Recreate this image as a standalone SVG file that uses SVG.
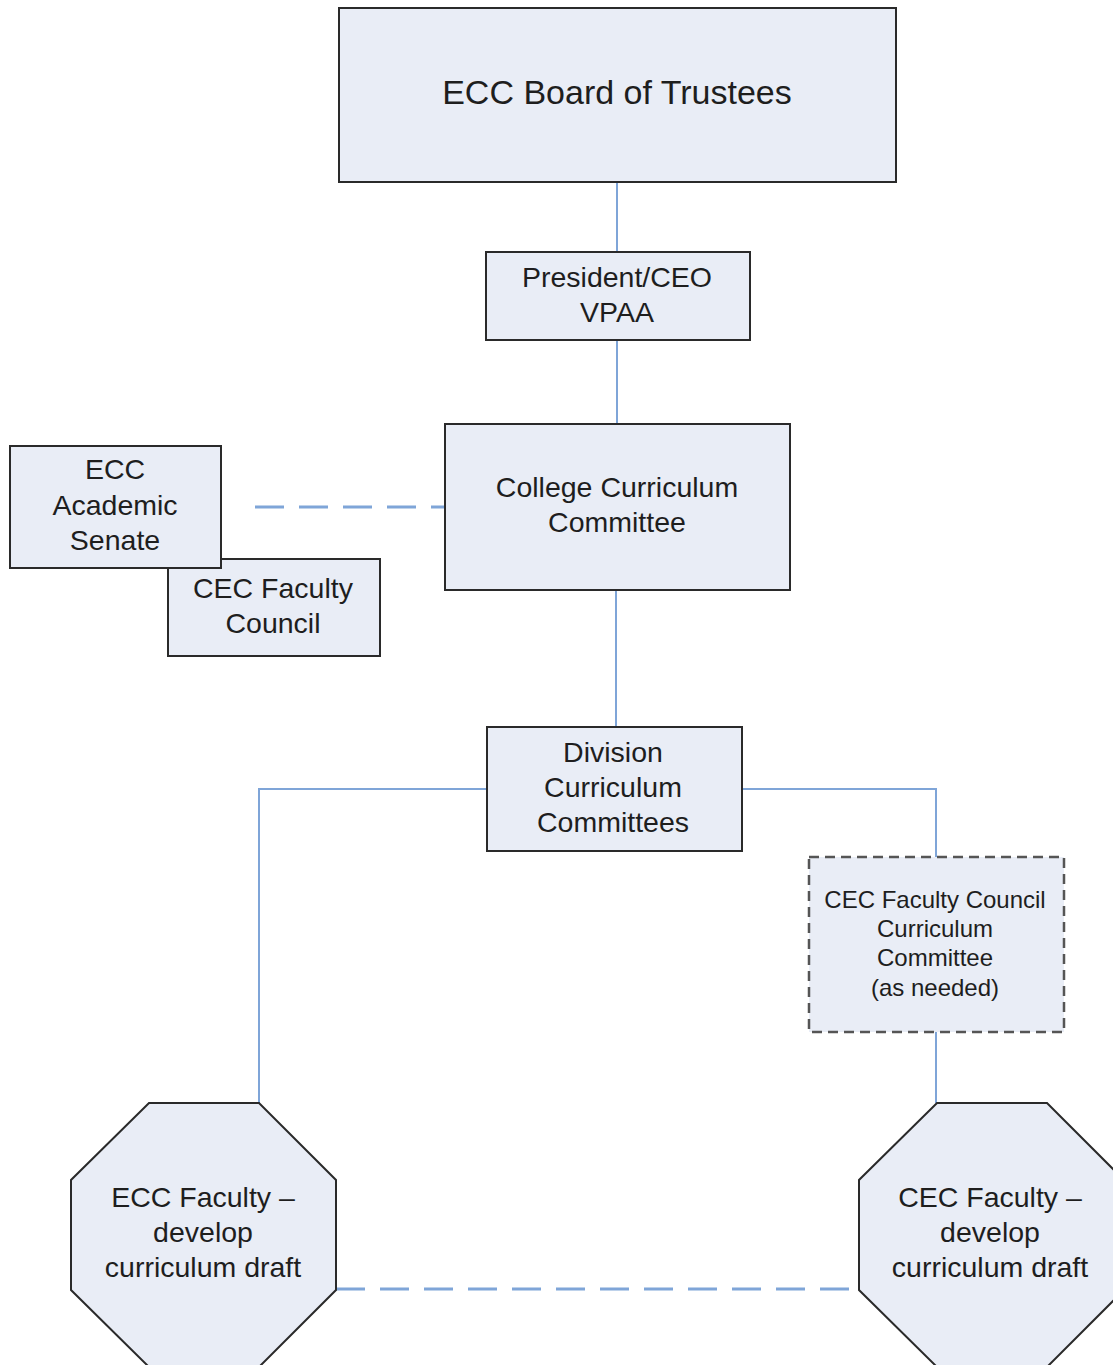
<svg xmlns="http://www.w3.org/2000/svg" width="1113" height="1365" viewBox="0 0 1113 1365">
<style>
.box{fill:#e9edf6;stroke:#2a2a2a;stroke-width:2}
.dbox{fill:#e9edf6;stroke:#555;stroke-width:2.5;stroke-dasharray:10,6}
.ln{fill:none;stroke:#7fa5d8;stroke-width:2}
.dl{fill:none;stroke:#7fa5d8;stroke-width:3;stroke-dasharray:29,15}
text{font-family:"Liberation Sans",Arial,sans-serif;fill:#1e1e1e;text-anchor:middle}
.t28{font-size:28.5px}
.t24{font-size:24px}
</style>
<rect width="1113" height="1365" fill="#fff"/>
<g id="connectors">
<line class="ln" x1="617" y1="182" x2="617" y2="252"/>
<line class="ln" x1="617" y1="340" x2="617" y2="424"/>
<line class="ln" x1="616" y1="590" x2="616" y2="727"/>
<polyline class="ln" points="487,789 259,789 259,1103"/>
<polyline class="ln" points="742,789 936,789 936,857"/>
<line class="ln" x1="936" y1="1032" x2="936" y2="1103"/>
<line class="dl" x1="255" y1="507" x2="445" y2="507"/>
<line class="dl" x1="336" y1="1289" x2="859" y2="1289"/>
</g>
<g id="board">
<rect class="box" x="339" y="8" width="557" height="174"/>
<text x="617" y="104" style="font-size:34px">ECC Board of Trustees</text>
</g>
<g id="president">
<rect class="box" x="486" y="252" width="264" height="88"/>
<text class="t28" x="617" y="287">President/CEO</text>
<text class="t28" x="617" y="322">VPAA</text>
</g>
<g id="ccc">
<rect class="box" x="445" y="424" width="345" height="166"/>
<text class="t28" x="617" y="497">College Curriculum</text>
<text class="t28" x="617" y="532">Committee</text>
</g>
<g id="cec-council">
<rect class="box" x="168" y="559" width="212" height="97"/>
<text class="t28" x="273" y="598">CEC Faculty</text>
<text class="t28" x="273" y="633">Council</text>
</g>
<g id="senate">
<rect class="box" x="10" y="446" width="211" height="122"/>
<text class="t28" x="115" y="479">ECC</text>
<text class="t28" x="115" y="515">Academic</text>
<text class="t28" x="115" y="550">Senate</text>
</g>
<g id="division">
<rect class="box" x="487" y="727" width="255" height="124"/>
<text class="t28" x="613" y="762">Division</text>
<text class="t28" x="613" y="797">Curriculum</text>
<text class="t28" x="613" y="832">Committees</text>
</g>
<g id="cec-cc">
<rect class="dbox" x="809" y="857" width="255" height="175"/>
<text class="t24" x="935" y="908">CEC Faculty Council</text>
<text class="t24" x="935" y="937">Curriculum</text>
<text class="t24" x="935" y="966">Committee</text>
<text class="t24" x="935" y="996">(as needed)</text>
</g>
<g id="ecc-faculty">
<polygon class="box" points="149,1103 259,1103 336,1180 336,1290 259,1367 149,1367 71,1290 71,1180"/>
<text class="t28" x="203" y="1207">ECC Faculty –</text>
<text class="t28" x="203" y="1242">develop</text>
<text class="t28" x="203" y="1277">curriculum draft</text>
</g>
<g id="cec-faculty">
<polygon class="box" points="937,1103 1047,1103 1124,1180 1124,1290 1047,1367 937,1367 859,1290 859,1180"/>
<text class="t28" x="990" y="1207">CEC Faculty –</text>
<text class="t28" x="990" y="1242">develop</text>
<text class="t28" x="990" y="1277">curriculum draft</text>
</g>
</svg>
